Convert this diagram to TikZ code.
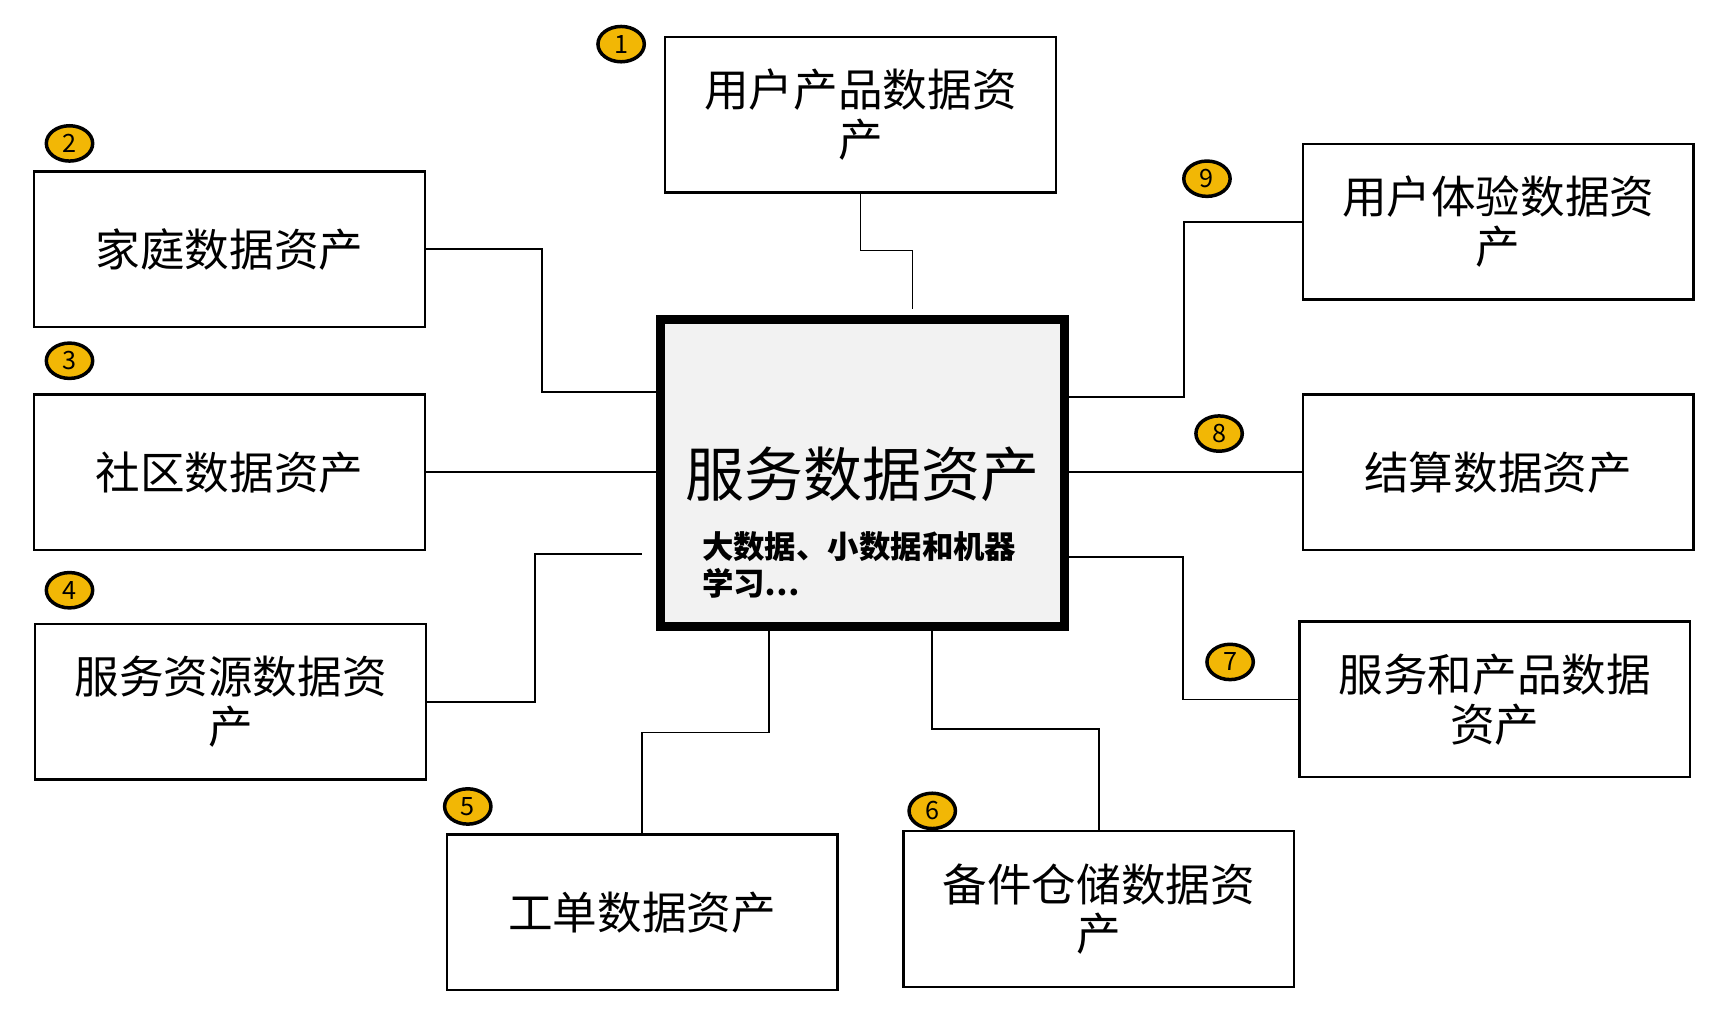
\documentclass[tikz,border=0pt]{standalone}
\usepackage{fontspec}
\setmainfont{Noto Sans CJK SC}
\usepackage{xcolor}
\usetikzlibrary{shapes.geometric}
\definecolor{badgeyellow}{HTML}{F2B705}
\begin{document}
\begin{tikzpicture}[x=0.01cm,y=-0.01cm,
  asset/.style={draw, line width=0.6pt, minimum width=3.54cm, minimum height=1.41cm, align=center, font=\fontsize{11.5}{12.8}\selectfont},
  badge/.style={ellipse, draw, line width=0.9pt, fill=badgeyellow, inner sep=0pt, minimum width=0.42cm, minimum height=0.32cm, font=\fontsize{6.5}{6.5}\selectfont},
  link/.style={line width=0.45pt}]
  \useasboundingbox (0,0) rectangle (1569,925);
  \node[draw, line width=2.3pt, fill=gray!10, minimum width=3.66cm, minimum height=2.78cm] (C) at (782,429) {};
  \node[font=\fontsize{15.2}{16}\selectfont] (T) at (782,430) {服务数据资产};
  \node[anchor=west, align=left, font=\bfseries\fontsize{8.1}{9.4}\selectfont] (S) at (624,512) {大数据、小数据和机器\\学习…};

  \node[asset] (A1) at (780,104) {用户产品数据资\\产};
  \node[asset] (A2) at (208,226) {家庭数据资产};
  \node[asset] (A3) at (208,428) {社区数据资产};
  \node[asset] (A4) at (209,636) {服务资源数据资\\产};
  \node[asset] (A5) at (582,827) {工单数据资产};
  \node[asset] (A6) at (996,824) {备件仓储数据资\\产};
  \node[asset] (A7) at (1355,634) {服务和产品数据\\资产};
  \node[asset] (A8) at (1358,428) {结算数据资产};
  \node[asset] (A9) at (1358,201) {用户体验数据资\\产};

  \node[badge] (B1) at (563,40) {1};
  \node[badge] (B2) at (63,130) {2};
  \node[badge] (B3) at (63,327) {3};
  \node[badge] (B4) at (63,535) {4};
  \node[badge] (B5) at (424,731) {5};
  \node[badge] (B6) at (845,735) {6};
  \node[badge] (B7) at (1115,600) {7};
  \node[badge] (B8) at (1105,393) {8};
  \node[badge] (B9) at (1094,162) {9};

  \coordinate (E1) at (827,280);
  \coordinate (E4) at (582,502);

  \draw[link] (A1.south) |- (827,227) -- (E1);
  \draw[link] (A2.east) -| (491,355) -- (C.west |- 0,355);
  \draw[link] (A3.east) -- (C.west |- A3.east);
  \draw[link] (A4.east) -| (485,502) -- (E4);
  \draw[link] (A5.north) |- (697,664) -- (C.south -| 697,0);
  \draw[link] (A6.north) |- (845,661) -- (C.south -| 845,0);
  \draw[link] (A7.west) -| (1072,505) -- (C.east |- 0,505);
  \draw[link] (A8.west) -- (C.east |- A8.west);
  \draw[link] (A9.west) -| (1073,360) -- (C.east |- 0,360);
\end{tikzpicture}
\end{document}
